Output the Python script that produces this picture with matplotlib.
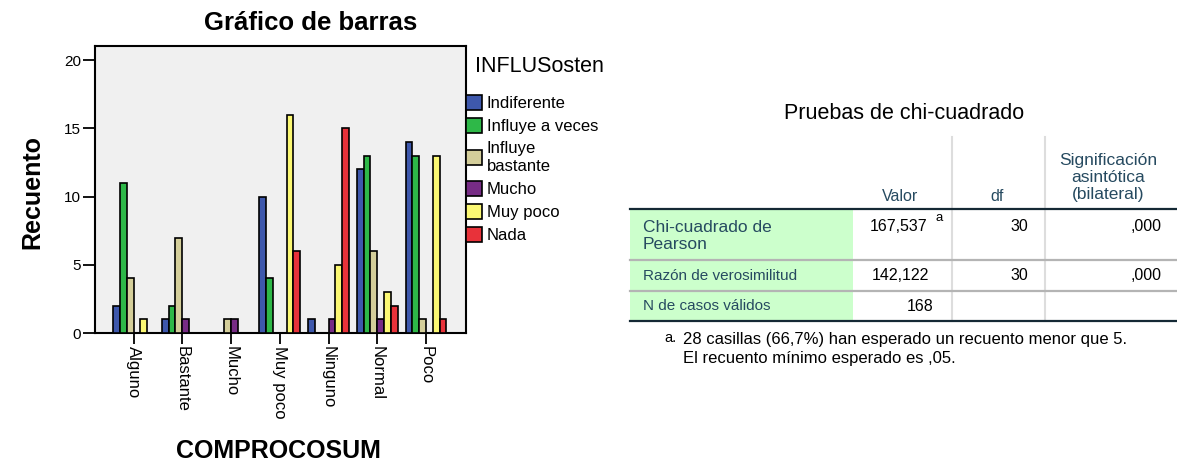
import numpy as np
import matplotlib
matplotlib.use("Agg")
import matplotlib.pyplot as plt
from matplotlib.patches import Patch, Rectangle

plt.rcParams['font.family'] = ['Liberation Sans', 'DejaVu Sans']

# bar chart data
categories = ['Alguno', 'Bastante', 'Mucho', 'Muy poco', 'Ninguno', 'Normal', 'Poco']
series = ['Indiferente', 'Influye a veces', 'Influye\nbastante', 'Mucho', 'Muy poco', 'Nada']
counts = [
    [2, 1, 0, 10, 1, 12, 14],    # Indiferente
    [11, 2, 0, 4, 0, 13, 13],    # Influye a veces
    [4, 7, 1, 0, 0, 6, 1],       # Influye bastante
    [0, 1, 1, 0, 1, 1, 0],       # Mucho
    [1, 0, 0, 16, 5, 3, 13],     # Muy poco
    [0, 0, 0, 6, 15, 2, 1],      # Nada
]
colors = ['#3E58AC', '#2EB848', '#D4CE9A', '#772C85', '#FBF873', '#E8323A']

# chi-square table data
tbl_title = 'Pruebas de chi-cuadrado'
col_headers = ['Valor', 'df', 'Significación\nasintótica\n(bilateral)']
row_labels = ['Chi-cuadrado de\nPearson', 'Razón de verosimilitud', 'N de casos válidos']
col_valor = ['167,537', '142,122', '168']
col_df = ['30', '30', '']
col_sig = [',000', ',000', '']
footnote = ['28 casillas (66,7%) han esperado un recuento menor que 5.',
            'El recuento mínimo esperado es ,05.']

W, H = 1177, 461
fig = plt.figure(figsize=(W / 100, H / 100), dpi=100)

# ---- bar chart ----
ax = fig.add_axes([95 / W, 1 - 333 / H, (466 - 95) / W, (333 - 46) / H])
ax.set_facecolor('#F0F0F0')
x = np.arange(len(categories))
bw = 0.14
for i, (vals, c) in enumerate(zip(counts, colors)):
    vals = np.array(vals)
    m = vals > 0
    ax.bar(x[m] + (i - 2.5) * bw, vals[m], width=bw, color=c,
           edgecolor='black', linewidth=1.2, zorder=3)
ax.set_xlim(-0.79, 6.82)
ax.set_ylim(0, 21.05)
ax.set_yticks([0, 5, 10, 15, 20])
ax.set_xticks(x)
ax.set_xticklabels(categories, rotation=270, fontsize=12, va='top', ha='center')
ax.tick_params(axis='y', length=9, width=1.3, pad=1, labelsize=11)
ax.tick_params(axis='x', length=8, width=1.3, pad=1)
for s in ax.spines.values():
    s.set_linewidth(1.5)

fig.text(311 / W, 1 - 30.5 / H, 'Gráfico de barras', fontsize=18.5, fontweight='bold',
         ha='center', va='baseline')
fig.text(32.5 / W, 1 - 192 / H, 'Recuento', fontsize=18, fontweight='bold',
         rotation=90, ha='center', va='center')
fig.text(278 / W, 1 - 458 / H, 'COMPROCOSUM', fontsize=18, fontweight='bold',
         ha='center', va='baseline')

# legend: items via matplotlib legend, title placed separately
handles = [Patch(facecolor=c, edgecolor='black', linewidth=1.2) for c in colors]
ax.legend(handles, series, loc='upper left',
          bbox_to_anchor=(466 / W, 1 - 95 / H), bbox_transform=fig.transFigure,
          frameon=False, fontsize=12, borderpad=0, borderaxespad=0,
          handlelength=0.95, handleheight=1.0, handletextpad=0.3,
          labelspacing=0.42)
fig.text(475 / W, 1 - 67 / H, 'INFLUSosten', fontsize=15.5, ha='left', va='center')

# ---- table (pixel coordinates) ----
tx = fig.add_axes([0, 0, 1, 1], zorder=-1)
tx.set_xlim(0, W)
tx.set_ylim(H, 0)
tx.axis('off')

hdr = '#264A60'
tx.text(904, 113, tbl_title, fontsize=15.5, ha='center', va='center', color='black')

tx.add_patch(Rectangle((630, 209), 853 - 630, 321 - 209, facecolor='#CCFFCC',
                       edgecolor='none'))
for xv in [952, 1045]:
    tx.plot([xv, xv], [137, 321], color='#DDDDDD', lw=1.5)
tx.plot([630, W], [209, 209], color='#152935', lw=1.6)
tx.plot([630, W], [321, 321], color='#152935', lw=1.6)
for yv in [260, 291]:
    tx.plot([630, W], [yv, yv], color='#B4B4B4', lw=1.6)

tx.text(900, 196, col_headers[0], fontsize=11.5, color=hdr, ha='center', va='center')
tx.text(997, 196, col_headers[1], fontsize=11.5, color=hdr, ha='center', va='center')
tx.text(1108, 177.5, col_headers[2], fontsize=12.5, color=hdr, ha='center',
        va='center', linespacing=1.2)

# row 1 (two-line label), rows 2-3
tx.text(643, 236, row_labels[0], fontsize=12.5, color=hdr, ha='left', va='center',
        linespacing=1.2)
tx.text(643, 275.5, row_labels[1], fontsize=11, color=hdr, ha='left', va='center')
tx.text(643, 306, row_labels[2], fontsize=11, color=hdr, ha='left', va='center')
val_y = [226, 275.5, 306]
val_right = [927, 929, 933]
for i in range(3):
    tx.text(val_right[i], val_y[i], col_valor[i], fontsize=11.5, color='black',
            ha='right', va='center')
    tx.text(1028, val_y[i], col_df[i], fontsize=11.5, color='black', ha='right',
            va='center')
    tx.text(1162, val_y[i], col_sig[i], fontsize=11.5, color='black', ha='right',
            va='center')
tx.text(936, 218, 'a', fontsize=9.5, color='black', ha='left', va='center')

tx.text(664, 338, 'a.', fontsize=10.5, color='black', ha='left', va='center')
tx.text(683, 339.5, footnote[0], fontsize=12, color='black', ha='left', va='center')
tx.text(683, 358.5, footnote[1], fontsize=12, color='black', ha='left', va='center')

fig.savefig('out.png', dpi=100)
